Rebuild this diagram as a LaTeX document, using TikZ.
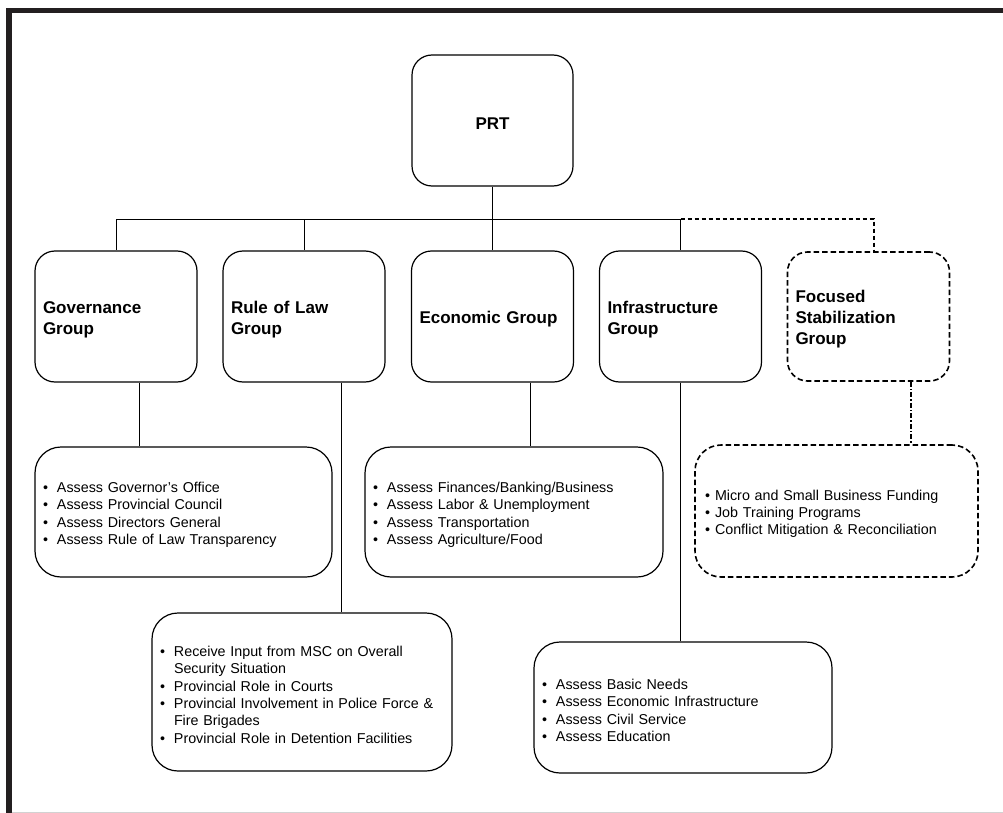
\documentclass[tikz,border=0pt]{standalone}
\usepackage{fontspec}
\setmainfont{Liberation Sans}
\definecolor{framecol}{HTML}{231F20}
\begin{document}
\begin{tikzpicture}[x=1pt,y=-1pt,
  box/.style={draw=black,line width=1.2pt,rounded corners=20pt,inner sep=0pt,align=left},
  grp/.style={box,minimum width=162pt,minimum height=131pt,text width=146pt,
    font=\fontsize{17}{21}\selectfont\bfseries,execute at begin node={\rule{0pt}{18pt}}},
  lst/.style={box,rounded corners=26pt,text width=#1,
    font=\fontsize{14.3}{17.3}\selectfont,execute at begin node={\rule{0pt}{16pt}}},
  dashbox/.style={line width=1.6pt,dash pattern=on 5.5pt off 3pt},
  conn/.style={line width=0.9pt},
  dconn/.style={line width=1.3pt,dash pattern=on 4.5pt off 2.5pt},
  ddconn/.style={line width=1.3pt,dash pattern=on 5pt off 2pt on 1.5pt off 2pt}]
\useasboundingbox (0,0) rectangle (1003,813);
% frame
\fill[framecol] (6,8) rectangle (1003,13.3);
\fill[framecol] (6,8) rectangle (11.6,813);
\draw[gray!35,line width=1pt] (11.6,812.3) -- (1003,812.3);
% top node
\node[grp,minimum width=161pt,text width=161pt,align=center] (prt) at (492.5,120.5) {PRT};
% groups
\node[grp] (gov) at (116,316.5) {Governance\\Group};
\node[grp] (rol) at (304,316.5) {Rule of Law\\Group};
\node[grp] (eco) at (492.5,316.5) {Economic Group};
\node[grp] (inf) at (680.5,316.5) {Infrastructure\\Group};
\node[grp,dashbox,minimum height=129pt] (foc) at (868.5,316.5) {Focused\\Stabilization\\Group};
% lists
\newcommand{\bul}{\makebox[14pt][l]{\textbullet}}
\newcommand{\cnt}{\hspace*{14pt}}
\node[lst=281pt,minimum width=297pt,minimum height=130pt] (govl) at (183.5,512)
  {\bul Assess Governor’s Office\\\bul Assess Provincial Council\\\bul Assess Directors General\\\bul Assess Rule of Law Transparency};
\node[lst=282pt,minimum width=298pt,minimum height=130pt] (ecol) at (514,512)
  {\bul Assess Finances/Banking/Business\\\bul Assess Labor \& Unemployment\\\bul Assess Transportation\\\bul Assess Agriculture/Food};
\node[lst=263pt,dashbox,minimum width=283pt,minimum height=132pt] (focl) at (836.5,511)
  {\makebox[10pt][l]{\textbullet}Micro and Small Business Funding\\\makebox[10pt][l]{\textbullet}Job Training Programs\\\makebox[10pt][l]{\textbullet}Conflict Mitigation \& Reconciliation};
\node[lst=284pt,minimum width=300pt,minimum height=158pt,execute at begin node={}] (roll) at (302,692)
  {\bul Receive Input from MSC on Overall\\\cnt Security Situation\\\bul Provincial Role in Courts\\\bul Provincial Involvement in Police Force \&\\\cnt Fire Brigades\\\bul Provincial Role in Detention Facilities};
\node[lst=282pt,minimum width=298pt,minimum height=131pt] (infl) at (683,707.5)
  {\bul Assess Basic Needs\\\bul Assess Economic Infrastructure\\\bul Assess Civil Service\\\bul Assess Education};
% connectors
\coordinate (bar) at (492.5,219);
\coordinate (barr) at (874,219);
\draw[conn] (prt.south) -- (bar);
\draw[conn] (gov.north |- bar) -- (inf.north |- bar);
\draw[conn] (gov.north |- bar) -- (gov.north);
\draw[conn] (rol.north |- bar) -- (rol.north);
\draw[conn] (bar) -- (eco.north);
\draw[conn] (inf.north |- bar) -- (inf.north);
\draw[dconn] (inf.north |- bar) -- (barr) -- (barr |- foc.north);
\draw[conn] (139,0 |- gov.south) -- (139,0 |- govl.north);
\draw[conn] (341,0 |- rol.south) -- (341,0 |- roll.north);
\draw[conn] (530,0 |- eco.south) -- (530,0 |- ecol.north);
\draw[conn] (680,0 |- inf.south) -- (680,0 |- infl.north);
\draw[ddconn] (911,0 |- foc.south) -- (911,0 |- focl.north);
\end{tikzpicture}
\end{document}
